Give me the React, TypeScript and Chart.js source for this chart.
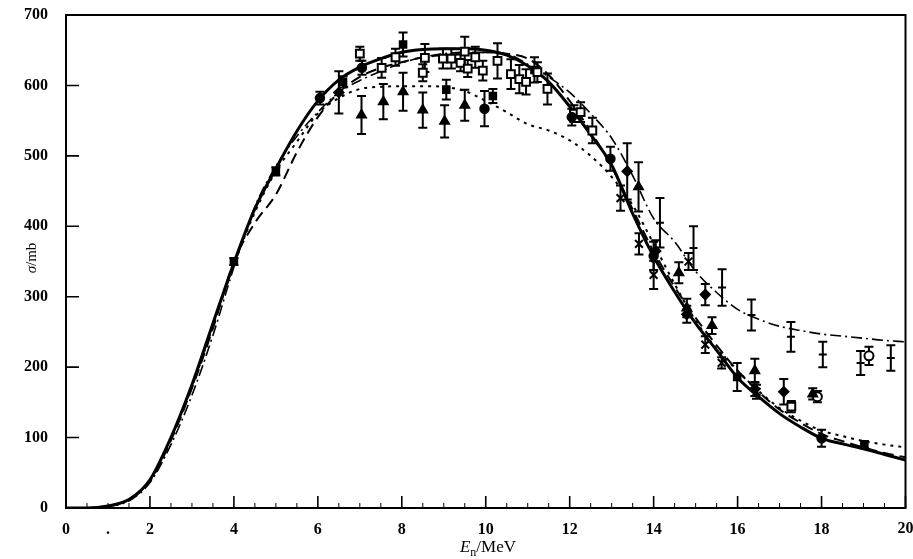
import React, { useEffect, useRef } from 'react';
import { Chart, registerables } from 'chart.js';
Chart.register(...registerables);

// ---------- curves (evaluated cross sections, mb) ----------
const curveE = [0, 0.5, 1, 1.5, 2, 2.5, 3, 3.5, 4, 4.5, 5, 5.5, 6, 6.5, 7, 7.5, 8, 8.5, 9, 9.5, 10, 10.5, 11, 11.5, 12, 12.5, 13, 13.5, 14, 14.5, 15, 15.5, 16, 16.5, 17, 17.5, 18, 18.5, 19, 19.5, 20];
const solidCurve = [0, 0, 3, 12, 40, 100, 175, 262, 348, 425, 482, 535, 578, 608, 626, 638, 647, 651, 652, 652, 650, 643, 628, 605, 570, 530, 487, 418, 357, 307, 262, 224, 185, 158, 134, 115, 99, 91, 84, 76, 68];
const dashedCurve = [0, 0, 3, 12, 38, 96, 170, 255, 350, 405, 445, 505, 555, 590, 612, 625, 633, 640, 643, 645, 647, 645, 638, 615, 578, 535, 484, 424, 364, 314, 270, 231, 195, 165, 140, 121, 105, 95, 86, 78, 72];
const dotDashCurve = [0, 0, 2, 10, 36, 90, 160, 245, 342, 428, 485, 528, 562, 590, 607, 620, 632, 640, 645, 647, 647, 645, 630, 612, 590, 560, 525, 472, 411, 378, 336, 306, 282, 268, 258, 252, 247, 244, 241, 238, 236];
const dottedCurve = [0, 0, 3, 12, 40, 98, 172, 258, 345, 420, 478, 520, 560, 582, 595, 598, 599, 599, 598, 592, 578, 562, 545, 536, 522, 500, 470, 430, 375, 318, 266, 226, 195, 166, 142, 124, 110, 102, 95, 90, 86];

// ---------- measured data (E in MeV, sigma in mb, error in mb) ----------
const circleE = [6.05, 7.05, 9.97, 12.05, 12.97, 14.0, 18.0];
const circleS = [582, 625, 567, 555, 496, 358, 99];
const circleErr = [9, 10, 25, 12, 17, 20, 12];

const openSqE = [7.0, 7.52, 7.85, 8.5, 8.55, 8.98, 9.18, 9.4, 9.5, 9.57, 9.75, 9.93, 10.28, 10.6, 10.8, 10.96, 11.23, 11.47, 12.1, 12.26, 12.54, 17.28];
const openSqS = [645, 625, 640, 618, 639, 638, 638, 632, 648, 624, 640, 621, 635, 616, 609, 605, 619, 595, 560, 562, 536, 144];
const openSqErr = [10, 14, 12, 12, 20, 14, 14, 12, 21, 12, 15, 14, 25, 21, 20, 18, 14, 22, 12, 14, 18, 8];

const triE = [7.04, 7.56, 8.03, 8.5, 9.02, 9.5, 13.64, 14.6, 14.79, 15.39, 16.41, 17.79];
const triS = [558, 577, 591, 565, 549, 572, 456, 334, 284, 259, 195, 162];
const triErr = [27, 25, 27, 25, 23, 22, 35, 15, 13, 12, 17, 8];

const sqE = [4.0, 5.0, 6.6, 8.03, 9.06, 10.17, 11.16, 15.99, 19.02];
const sqS = [350, 478, 605, 658, 594, 585, 622, 186, 90];
const sqErr = [5, 6, 8, 17, 14, 10, 18, 20, 5];

const diaE = [6.5, 13.37, 14.05, 15.23, 14.79, 16.41, 17.1];
const diaS = [590, 478, 365, 303, 275, 169, 165];
const diaErr = [30, 40, 15, 15, 12, 10, 18];

const crossE = [13.21, 13.65, 14.0, 14.83, 15.23, 15.62, 16.45];
const crossS = [440, 375, 331, 350, 232, 206, 165];
const crossErr = [18, 15, 20, 12, 12, 8, 10];

const openCircE = [17.9, 19.13];
const openCircS = [158, 216];
const openCircErr = [8, 13];

const barE = [14.15, 14.95, 15.63, 16.33, 17.27, 18.03, 18.93, 19.65];
const barS = [405, 369, 313, 274, 243, 218, 206, 213];
const barErr = [35, 31, 26, 22, 21, 18, 17, 18];

// ---------- axis ----------
const xMajorTicks = [0, 2, 4, 6, 8, 10, 12, 14, 16, 18, 20];
const yTicks = [0, 100, 200, 300, 400, 500, 600, 700];
const xMax = 20;

const pts = (xs: number[], ys: number[]) => xs.map((x, i) => ({ x, y: ys[i] }));
const tickFont = 'bold 16px "Liberation Serif"';

const errorBars = {
  id: 'errorBars',
  beforeDatasetsDraw(chart: any) {
    const ctx = chart.ctx;
    const ys = chart.scales.y;
    chart.data.datasets.forEach((ds: any, di: number) => {
      if (!ds.errors) return;
      const meta = chart.getDatasetMeta(di);
      ctx.save();
      ctx.strokeStyle = '#000';
      ctx.lineWidth = 2;
      meta.data.forEach((el: any, i: number) => {
        const v = ds.data[i].y;
        const e = ds.errors[i];
        const t = ys.getPixelForValue(v + e);
        const b = ys.getPixelForValue(v - e);
        ctx.beginPath();
        ctx.moveTo(el.x, t); ctx.lineTo(el.x, b);
        ctx.moveTo(el.x - 4.5, t); ctx.lineTo(el.x + 4.5, t);
        ctx.moveTo(el.x - 4.5, b); ctx.lineTo(el.x + 4.5, b);
        ctx.stroke();
      });
      ctx.restore();
    });
  },
};

const frame = {
  id: 'frame',
  afterDraw(chart: any) {
    const { ctx, chartArea } = chart;
    const { left, right, top, bottom } = chartArea;
    const xs = chart.scales.x;
    const ys = chart.scales.y;
    ctx.save();
    ctx.strokeStyle = '#000';
    ctx.lineWidth = 2;
    ctx.strokeRect(left, top, right - left, bottom - top);
    ctx.lineWidth = 1.6;
    ctx.beginPath();
    yTicks.forEach((v) => {
      const p = ys.getPixelForValue(v);
      ctx.moveTo(left, p); ctx.lineTo(left + 13, p);
    });
    xMajorTicks.forEach((v) => {
      const p = xs.getPixelForValue(v);
      ctx.moveTo(p, bottom); ctx.lineTo(p, bottom - 12);
    });
    ctx.stroke();
    ctx.lineWidth = 1;
    ctx.beginPath();
    for (let v = 0.5; v < 20; v += 0.5) {
      if (v % 2 === 0) continue;
      const p = xs.getPixelForValue(v);
      ctx.moveTo(p, bottom); ctx.lineTo(p, bottom - 5);
    }
    ctx.stroke();

    // last x tick label (drawn here so it does not shrink the plot area)
    ctx.fillStyle = '#000';
    ctx.font = tickFont;
    ctx.textAlign = 'center';
    ctx.textBaseline = 'top';
    ctx.fillText(String(xMax), xs.getPixelForValue(xMax), bottom + 13);
    ctx.textAlign = 'left';

    // axis titles
    ctx.textBaseline = 'alphabetic';
    const f1 = 'italic 17px "Liberation Serif"';
    const f2 = '12px "Liberation Serif"';
    const f3 = '17px "Liberation Serif"';
    ctx.font = f1; const wE = ctx.measureText('E').width;
    ctx.font = f2; const wn = ctx.measureText('n').width;
    ctx.font = f3; const wm = ctx.measureText('/MeV').width;
    let x0 = 488 - (wE + wn + wm) / 2;
    const by = 552;
    ctx.font = f1; ctx.fillText('E', x0, by); x0 += wE;
    ctx.font = f2; ctx.fillText('n', x0, by + 4); x0 += wn;
    ctx.font = f3; ctx.fillText('/MeV', x0, by);

    ctx.translate(31, 258);
    ctx.rotate(-Math.PI / 2);
    const g1 = 'italic 15px "Liberation Serif"';
    const g2 = '15px "Liberation Serif"';
    ctx.font = g1; const ws = ctx.measureText('σ').width;
    ctx.font = g2; const wmb = ctx.measureText('/mb').width;
    let sx = -(ws + wmb) / 2;
    ctx.font = g1; ctx.fillText('σ', sx, 5); sx += ws;
    ctx.font = g2; ctx.fillText('/mb', sx, 5);
    ctx.restore();
  },
};

export default function App() {
  const ref = useRef<HTMLCanvasElement | null>(null);
  useEffect(() => {
    document.body.style.margin = '0';
    const curve = (data: number[], dash: number[], width: number) => ({
      type: 'line' as const,
      data: pts(curveE, data),
      borderColor: '#000',
      borderWidth: width,
      borderDash: dash,
      pointRadius: 0,
      fill: false,
      cubicInterpolationMode: 'monotone' as const,
      order: 10,
    });
    const marks = (xs: number[], ys: number[], errs: number[], style: string, r: number, fill: string, bw = 1.5) => ({
      type: 'scatter' as const,
      data: pts(xs, ys),
      errors: errs,
      pointStyle: style,
      pointRadius: r,
      pointBackgroundColor: fill,
      pointBorderColor: '#000',
      pointBorderWidth: bw,
      showLine: false,
      order: 1,
    });
    const chart = new Chart(ref.current as HTMLCanvasElement, {
      type: 'scatter',
      data: {
        datasets: [
          curve(solidCurve, [], 3),
          curve(dashedCurve, [11, 6], 2),
          curve(dotDashCurve, [11, 4, 2, 4], 1.6),
          curve(dottedCurve, [3, 5], 2),
          marks(circleE, circleS, circleErr, 'circle', 4.5, '#000'),
          marks(openSqE, openSqS, openSqErr, 'rect', 5.5, '#fff', 2),
          marks(triE, triS, triErr, 'triangle', 5.5, '#000'),
          marks(sqE, sqS, sqErr, 'rect', 5, '#000'),
          marks(diaE, diaS, diaErr, 'rectRot', 5, '#000'),
          marks(crossE, crossS, crossErr, 'crossRot', 5.5, '#000', 2),
          marks(openCircE, openCircS, openCircErr, 'circle', 4.5, '#fff', 2),
          marks(barE, barS, barErr, 'line', 4, '#000', 2),
        ] as any,
      },
      options: {
        animation: false,
        responsive: true,
        maintainAspectRatio: false,
        layout: { padding: { top: 15, right: -4, left: 0, bottom: 0 } },
        plugins: { legend: { display: false }, tooltip: { enabled: false } },
        scales: {
          x: {
            type: 'linear',
            min: 0,
            max: xMax,
            grid: { display: false },
            border: { display: false },
            ticks: {
              stepSize: 1,
              autoSkip: false,
              maxRotation: 0,
              padding: 4,
              color: '#000',
              font: { family: '"Liberation Serif"', size: 16, weight: 'bold' },
              callback: (v: any) => (v === xMax ? '' : v % 2 === 0 ? String(v) : v === 1 ? '.' : ''),
            },
            afterFit: (s: any) => { s.height = 51; s.paddingLeft = 0; s.paddingRight = 0; },
          },
          y: {
            type: 'linear',
            min: 0,
            max: 700,
            grid: { display: false },
            border: { display: false },
            ticks: {
              stepSize: 100,
              padding: 10,
              color: '#000',
              font: { family: '"Liberation Serif"', size: 16, weight: 'bold' },
            },
            afterFit: (s: any) => { s.width = 66; s.paddingTop = 0; s.paddingBottom = 0; },
          },
        },
      } as any,
      plugins: [errorBars, frame],
    });
    return () => chart.destroy();
  }, []);
  return (
    <div style={{ width: 913, height: 559, position: 'relative', background: '#fff' }}>
      <canvas ref={ref} />
    </div>
  );
}
